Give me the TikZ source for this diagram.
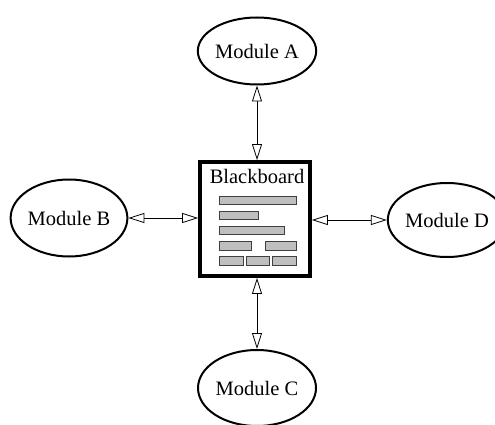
\documentclass[tikz,border=0pt]{standalone}
\usepackage{fontspec}
\setmainfont{Liberation Serif}
\usetikzlibrary{arrows.meta,shapes.geometric}
\begin{document}
\begin{tikzpicture}[x=1pt,y=-1pt,
  module/.style={draw, line width=2pt, ellipse, inner sep=0pt,
    font=\fontsize{20.5}{24}\selectfont},
  board/.style={draw, line width=3.8pt, rectangle, inner sep=0pt,
    minimum width=110pt, minimum height=114pt},
  tip/.style={Triangle[open, length=16pt, width=10pt, fill=white, line width=0.8pt]},
  link/.style={line width=0.9pt, {Triangle[open, length=16pt, width=10pt, fill=white, line width=0.8pt]}-{Triangle[open, length=16pt, width=10pt, fill=white, line width=0.8pt]}},
  bar/.style={draw=black!75, fill=black!25, line width=0.8pt}]
  \useasboundingbox (0,0) rectangle (495,425);

  % central blackboard
  \node[board] (bb) at (255,219) {};
  \node[font=\fontsize{20.5}{24}\selectfont] (title) at (257,176) {Blackboard};

  % text lines on the board
  \draw[bar] (219,196) rectangle (296,204);
  \draw[bar] (219,211) rectangle (258,219);
  \draw[bar] (219,226) rectangle (284,234);
  \draw[bar] (219,241) rectangle (251,250);
  \draw[bar] (265,241) rectangle (296,250);
  \draw[bar] (219,256) rectangle (243,265);
  \draw[bar] (246,256) rectangle (269,265);
  \draw[bar] (272,256) rectangle (296,265);

  % modules
  \node[module, minimum width=116pt, minimum height=67pt] (a) at (257,51) {Module A};
  \node[module, minimum width=114pt, minimum height=77pt] (b) at (69,218) {Module B};
  \node[module, minimum width=118pt, minimum height=76pt] (c) at (257,388) {Module C};
  \node[module, minimum width=118pt, minimum height=74pt] (d) at (447,220) {Module D};

  % connectors
  \draw[link] (a.south) -- (a.south |- bb.north);
  \draw[link] (c.north |- bb.south) -- (c.north);
  \draw[link] (b.east) -- (b.east -| bb.west);
  \draw[link] (bb.east |- d.west) -- (d.west);
\end{tikzpicture}
\end{document}
